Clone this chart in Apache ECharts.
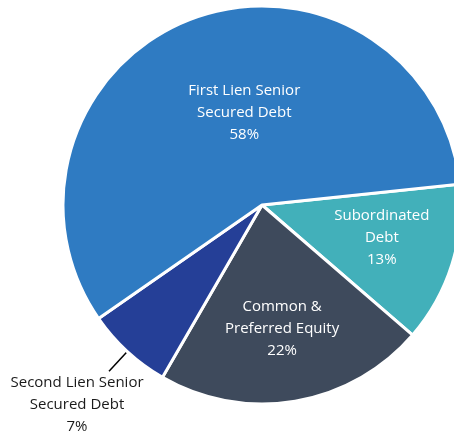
<!DOCTYPE html>
<html>
<head>
<meta charset="utf-8">
<script src="https://cdn.jsdelivr.net/npm/echarts@6/dist/echarts.min.js"></script>
<style>
  html, body { margin: 0; padding: 0; background: #fff; }
  #chart { width: 454px; height: 433px; }
</style>
</head>
<body>
<div id="chart"></div>
<script>
// data, in drawing order (clockwise from 3 o'clock)
const categories = ["Subordinated\nDebt", "Common &\nPreferred Equity", "Second Lien Senior\nSecured Debt", "First Lien Senior\nSecured Debt"]
const shares = [13, 22, 7, 58]
const colors = ["#42B0BA", "#3E4A5C", "#253F97", "#2F7BC2"]

// label nudges (dx, dy) from the default spot
const nudges = [[22, 2], [3, 23], [-27, 33], [18, 4]]

const chart = echarts.init(document.getElementById("chart"))

const data = categories.map((name, i) => ({
  name: name,
  value: shares[i],
  itemStyle: { color: colors[i] },
  label: i === 2
    ? { position: "outside", color: "#1a1a1a" }
    : { position: "inside", color: "#ffffff" },
  labelLine: i === 2
    ? { show: true, length: 27, length2: 0, lineStyle: { color: "#000", width: 1.5 } }
    : { show: false },
}))

const option = {
  animation: false,
  series: [
    {
      type: "pie",
      center: [262, 205],
      radius: [0, 199],
      startAngle: 6,
      clockwise: true,
      avoidLabelOverlap: false,
      itemStyle: {
        borderColor: "#ffffff",
        borderWidth: 3,
      },
      label: {
        show: true,
        fontFamily: "Open Sans",
        fontSize: 15,
        lineHeight: 22,
        formatter: (p) => p.name + "\n" + p.value + "%",
      },
      labelLayout: (params) => {
        const d = nudges[params.dataIndex]
        return { dx: d[0], dy: d[1], align: "center" }
      },
      data: data,
    },
  ],
}
chart.setOption(option)
</script>
</body>
</html>
